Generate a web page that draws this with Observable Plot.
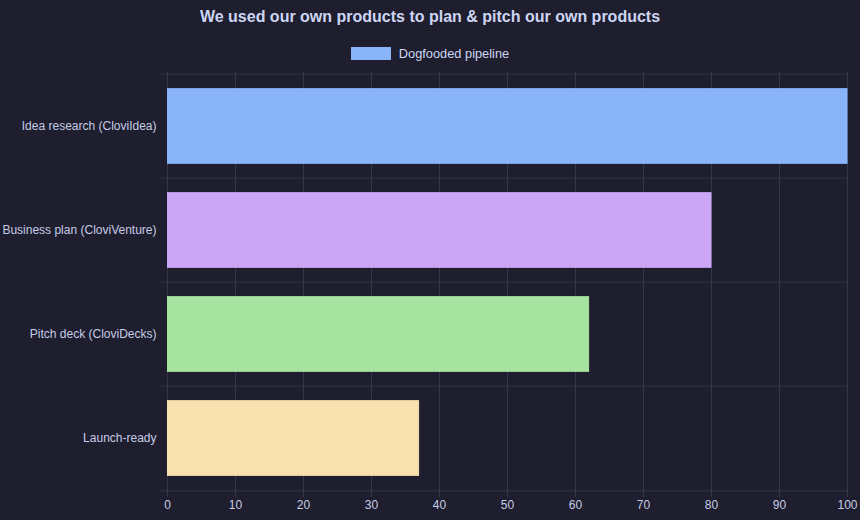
<!DOCTYPE html>
<html>
<head>
<meta charset="utf-8">
<script src="https://cdn.jsdelivr.net/npm/d3@7"></script>
<script src="https://cdn.jsdelivr.net/npm/@observablehq/plot@0.6"></script>
<style>
  html, body { margin: 0; padding: 0; background: #1e1e2e; }
  body { width: 860px; height: 520px; overflow: hidden; font-family: "Liberation Sans", Arial, Helvetica, sans-serif; }
  #title { height: 34px; line-height: 34px; text-align: center; color: #cdd6f4; font-size: 16px; font-weight: bold; }
  #legend { height: 20px; padding-top: 9px; display: flex; justify-content: center; align-items: center; color: #cdd6f4; font-size: 12.8px; }
  #legend .sw { width: 38px; height: 11px; margin-right: 8px; border: 1px solid #89b4fa; background: #89b4fa; }
  #chart svg { display: block; }
</style>
</head>
<body>
<div id="title"></div>
<div id="legend"></div>
<div id="chart"></div>
<script>
const title = "We used our own products to plan & pitch our own products";
const seriesName = "Dogfooded pipeline";
const categories = ["Idea research (CloviIdea)", "Business plan (CloviVenture)", "Pitch deck (CloviDecks)", "Launch-ready"];
const values = [100, 80, 62, 37];
const colors = ["#89b4fa", "#cba6f7", "#a6e3a1", "#f9e2af"];
const xTicks = [0, 10, 20, 30, 40, 50, 60, 70, 80, 90, 100];

document.getElementById("title").textContent = title;
const lg = document.getElementById("legend");
const sw = document.createElement("span"); sw.className = "sw"; lg.appendChild(sw);
const lt = document.createElement("span"); lt.textContent = seriesName; lg.appendChild(lt);

const data = categories.map((c, i) => ({category: c, value: values[i], color: colors[i]}));

const W = 860, H = 457, mt = 9, mb = 29, ml = 167, mr = 13;
const band = (H - mt - mb) / categories.length;
const barInset = band * (1 - 0.72) / 2;
const grid = "#35364a";

const chart = Plot.plot({
  width: W, height: H,
  marginTop: mt, marginBottom: mb, marginLeft: ml, marginRight: mr,
  style: {background: "#1e1e2e", color: "#c6cce6", fontFamily: "'Liberation Sans', Arial, Helvetica, sans-serif", fontSize: "12px"},
  x: {domain: [0, 100], ticks: xTicks, label: null},
  y: {domain: categories, padding: 0, label: null},
  marks: [
    Plot.gridX(xTicks, {stroke: grid, strokeOpacity: 1, insetBottom: -6}),
    Plot.ruleY(categories, {y: d => d, dy: -band / 2, stroke: grid, insetLeft: -7}),
    Plot.ruleY(categories.slice(-1), {y: d => d, dy: band / 2, stroke: grid, insetLeft: -7}),
    Plot.barX(data, {x: "value", y: "category", fill: "color", stroke: "color", strokeWidth: 1, insetTop: barInset, insetBottom: barInset, insetLeft: 0.5}),
    Plot.axisX({ticks: xTicks, tickSize: 0, tickPadding: 9, fill: "#c6cce6", label: null}),
    Plot.axisY({tickSize: 0, tickPadding: 11, fill: "#c6cce6", label: null})
  ]
});
document.getElementById("chart").appendChild(chart);
</script>
</body>
</html>
